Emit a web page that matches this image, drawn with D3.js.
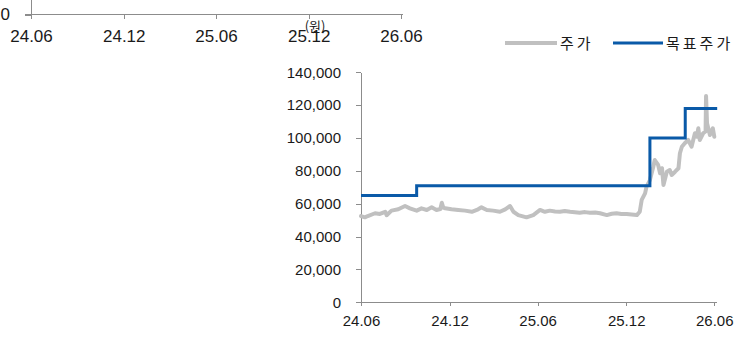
<!DOCTYPE html>
<html>
<head>
<meta charset="utf-8">
<script src="https://cdn.jsdelivr.net/npm/d3@7/dist/d3.min.js"></script>
<style>
  html, body { margin: 0; padding: 0; background: #fff; }
  svg { display: block; }
  .axis text { font-family: "Liberation Sans", Arial, sans-serif; fill: #1a1a1a; }
  .axis path, .axis line { stroke: #8c8c8c; shape-rendering: crispEdges; }
  .kr { font-family: "Noto Sans CJK KR", "Noto Sans", sans-serif; fill: #1a1a1a; }
</style>
</head>
<body>
<svg id="chart" width="740" height="338"></svg>
<script>
// Share price (KRW), sampled dates
const priceDates = [
  "2024-06-01","2024-06-09","2024-06-15","2024-06-30","2024-07-10","2024-07-21","2024-07-24","2024-08-03",
  "2024-08-17","2024-08-31","2024-09-10","2024-09-24","2024-10-04","2024-10-15","2024-10-25","2024-11-04",
  "2024-11-12","2024-11-15","2024-11-18","2024-11-22","2024-12-05","2024-12-19","2025-01-02","2025-01-16",
  "2025-01-29","2025-02-05","2025-02-16","2025-03-01","2025-03-15","2025-03-26","2025-04-05","2025-04-12",
  "2025-04-22","2025-05-09","2025-05-23","2025-06-06","2025-06-16","2025-06-26","2025-07-07","2025-07-17",
  "2025-07-27","2025-08-07","2025-08-17","2025-08-27","2025-09-07","2025-09-17","2025-09-28","2025-10-08",
  "2025-10-22","2025-11-01","2025-11-11","2025-11-21","2025-12-02","2025-12-12","2025-12-23","2025-12-29",
  "2026-01-02","2026-01-09","2026-01-12","2026-01-19","2026-01-26","2026-01-29","2026-02-05","2026-02-09",
  "2026-02-13","2026-02-16","2026-02-23","2026-03-01","2026-03-05","2026-03-12","2026-03-19","2026-03-22",
  "2026-03-26","2026-04-01","2026-04-08","2026-04-15","2026-04-22","2026-04-26","2026-04-29","2026-05-02",
  "2026-05-09","2026-05-14","2026-05-15","2026-05-17","2026-05-23","2026-05-29","2026-06-01"
];
const priceValues = [
  52500,51700,52500,54200,53800,55100,53000,55800,
  56600,58600,57200,55800,57200,56200,57800,56200,
  56800,60600,57600,57200,56600,56200,55800,55100,
  56600,57800,56200,55800,55100,56600,58600,55100,
  53100,51700,53100,56200,55100,55800,55300,55100,
  55600,55100,54800,54500,54900,54500,54700,54200,
  53100,53900,54200,53800,53700,53400,53100,55100,
  62300,66300,70400,74400,82500,86600,83600,78500,
  81600,71400,79500,80500,77500,79500,81600,90700,
  94700,96800,98800,94700,102900,100800,105900,98800,
  102900,104000,125600,109000,101800,105900,100800
];

// Target price (KRW), step changes
const targetDates  = ["2024-06-01","2024-09-24","2026-01-19","2026-04-02","2026-06-07"];
const targetValues = [65000, 71000, 100000, 118000, 118000];

const yTicks = [0, 20000, 40000, 60000, 80000, 100000, 120000, 140000];
const xTickDates = ["2024-06-01","2024-12-01","2025-06-01","2025-12-01","2026-06-01"];
const seriesNames = ["주가", "목표주가"];
const unitLabel = "(원)";

const parse = d3.utcParse("%Y-%m-%d");
const fmtX = d3.utcFormat("%y.%m");
const svg = d3.select("#chart");

const GRAY = "#c0c0c0", BLUE = "#0a5aa8";

// ---- partial axis of the preceding panel (top-left strip) ----
const xTop = d3.scaleUtc().domain([parse("2024-06-01"), parse("2026-06-05")]).range([31, 403]);
const yTop = d3.scaleLinear().domain([0, 100]).range([14.5, -300]);
const topX = svg.append("g").attr("class", "axis").attr("transform", "translate(0,14.5)")
  .call(d3.axisBottom(xTop).tickValues(xTickDates.map(parse)).tickFormat(fmtX)
        .tickSize(4).tickSizeOuter(0).tickPadding(11));
topX.select(".domain").attr("d", "M25,0H403");
topX.selectAll("text").style("font-size", "17px");
const topY = svg.append("g").attr("class", "axis").attr("transform", "translate(31,0)")
  .call(d3.axisLeft(yTop).tickValues([0]).tickSize(6).tickSizeOuter(0).tickPadding(15));
topY.selectAll("text").style("font-size", "17px");

// ---- main chart ----
const x = d3.scaleUtc().domain([parse("2024-06-01"), parse("2026-06-06")]).range([361, 716.7]);
const y = d3.scaleLinear().domain([0, 140000]).range([302.3, 72.3]);

const gx = svg.append("g").attr("class", "axis").attr("transform", `translate(0,${y(0)})`)
  .call(d3.axisBottom(x).tickValues(xTickDates.map(parse)).tickFormat(fmtX)
        .tickSize(4).tickSizeOuter(0).tickPadding(9));
gx.selectAll("text").style("font-size", "15px");

const gy = svg.append("g").attr("class", "axis").attr("transform", `translate(${x.range()[0]},0)`)
  .call(d3.axisLeft(y).tickValues(yTicks).tickFormat(d3.format(","))
        .tickSize(5).tickSizeOuter(0).tickPadding(15));
gy.selectAll("text").style("font-size", "15px");

svg.append("text").attr("class", "kr")
  .attr("x", 315).attr("y", 31).attr("text-anchor", "middle")
  .style("font-size", "13px").text(unitLabel);

// price line
const price = priceDates.map((d, i) => ({ date: parse(d), value: priceValues[i] }));
svg.append("path").datum(price)
  .attr("fill", "none").attr("stroke", GRAY).attr("stroke-width", 4)
  .attr("stroke-linejoin", "round").attr("stroke-linecap", "round")
  .attr("d", d3.line().x(d => x(d.date)).y(d => y(d.value)));

// target price step line
const target = targetDates.map((d, i) => ({ date: parse(d), value: targetValues[i] }));
svg.append("path").datum(target)
  .attr("fill", "none").attr("stroke", BLUE).attr("stroke-width", 3)
  .attr("d", d3.line().curve(d3.curveStepAfter).x(d => x(d.date)).y(d => y(d.value)));

// legend
const legend = [
  { name: seriesNames[0], color: GRAY, width: 4, x0: 505, x1: 557 },
  { name: seriesNames[1], color: BLUE, width: 3, x0: 613, x1: 663 }
];
const lg = svg.append("g");
legend.forEach(l => {
  lg.append("line").attr("x1", l.x0).attr("x2", l.x1).attr("y1", 43).attr("y2", 43)
    .attr("stroke", l.color).attr("stroke-width", l.width);
  lg.append("text").attr("class", "kr").attr("x", l.x1 + 3).attr("y", 48.5)
    .style("font-size", "15px").style("letter-spacing", "3px").text(l.name);
});
</script>
</body>
</html>
